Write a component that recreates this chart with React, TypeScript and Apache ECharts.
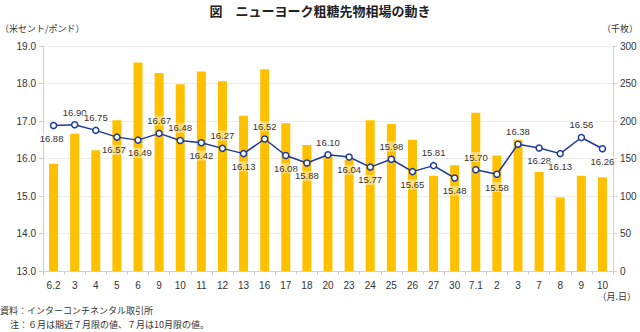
import React, { useEffect, useRef } from "react";
import * as echarts from "echarts";

const categories = ["6.2", "3", "4", "5", "6", "9", "10", "11", "12", "13", "16", "17", "18", "20", "23", "24", "25", "26", "27", "30", "7.1", "2", "3", "7", "8", "9", "10"];
const prices = [16.88, 16.9, 16.75, 16.57, 16.49, 16.67, 16.48, 16.42, 16.27, 16.13, 16.52, 16.08, 15.88, 16.1, 16.04, 15.77, 15.98, 15.65, 15.81, 15.48, 15.7, 15.58, 16.38, 16.28, 16.13, 16.56, 16.26];
const volumes = [143, 183, 161, 201, 278, 264, 249, 266, 253, 207, 269, 197, 168, 155, 148, 201, 196, 175, 127, 141, 211, 154, 175, 132, 98, 127, 125];
const labelPos = ["bottom", "top", "top", "bottom", "bottom", "top", "top", "bottom", "top", "bottom", "top", "bottom", "bottom", "top", "bottom", "bottom", "top", "bottom", "top", "bottom", "top", "bottom", "top", "bottom", "bottom", "top", "bottom"];
const labelShift = [-2, 0, 0, -3, 2, 0, 0, 0, 0, 0, 0, 0, 0, 0, 0, 0, 0, 0, 0, 0, 0, 0, 0, 0, 0, 0, 0];
const julyStart = 20;
const leftTicks = [13, 19, 1];
const rightTicks = [0, 300, 50];

const FONT = "'Noto Sans CJK JP', 'Liberation Sans', sans-serif";
const NUMFONT = "'Liberation Sans', Arial, sans-serif";
const LINE = "#1C3A9C";

function lineData(from: number, to: number) {
  return prices.map((v, i) =>
    i >= from && i < to
      ? {
          value: v,
          label: {
            show: true,
            position: labelPos[i],
            distance: 4,
            offset: [labelShift[i], 0],
            formatter: (p: any) => Number(p.value).toFixed(2),
            fontSize: 9.5,
            fontFamily: NUMFONT,
            color: "#333",
            backgroundColor: "rgba(255,255,255,0.45)",
            padding: [0, 1],
          },
        }
      : null
  );
}

export default function App() {
  const ref = useRef<HTMLDivElement>(null);
  useEffect(() => {
    const chart = echarts.init(ref.current!, null, { renderer: "svg" });
    const lineSeries = (from: number, to: number) => ({
      type: "line",
      yAxisIndex: 0,
      data: lineData(from, to),
      connectNulls: false,
      symbol: "circle",
      symbolSize: 6,
      itemStyle: { color: "#fff", borderColor: LINE, borderWidth: 1.5 },
      lineStyle: { color: LINE, width: 1.5 },
      z: 5,
    });
    chart.setOption({
      animation: false,
      textStyle: { fontFamily: FONT },
      grid: { left: 43, right: 27, top: 46, bottom: 61 },
      xAxis: {
        type: "category",
        data: categories,
        axisLine: { lineStyle: { color: "#d0d0d0" } },
        axisTick: { show: true, alignWithLabel: false, length: 4, lineStyle: { color: "#d0d0d0" } },
        axisLabel: { fontSize: 10, color: "#333", fontFamily: NUMFONT, margin: 9, interval: 0 },
      },
      yAxis: [
        {
          type: "value",
          min: leftTicks[0],
          max: leftTicks[1],
          interval: leftTicks[2],
          axisLine: { show: true, lineStyle: { color: "#d0d0d0" } },
          axisTick: { show: true, length: 4, lineStyle: { color: "#d0d0d0" } },
          axisLabel: { fontSize: 10, color: "#333", fontFamily: NUMFONT, formatter: (v: number) => v.toFixed(1), margin: 7 },
          splitLine: { lineStyle: { color: "#ececec" } },
        },
        {
          type: "value",
          min: rightTicks[0],
          max: rightTicks[1],
          interval: rightTicks[2],
          position: "right",
          axisLine: { show: true, lineStyle: { color: "#d0d0d0" } },
          axisTick: { show: true, length: 4, lineStyle: { color: "#d0d0d0" } },
          axisLabel: { fontSize: 10, color: "#333", fontFamily: NUMFONT, margin: 7 },
          splitLine: { show: false },
        },
      ],
      series: [
        {
          type: "bar",
          yAxisIndex: 1,
          data: volumes,
          barWidth: 9,
          itemStyle: { color: "#FFC000" },
          z: 2,
        },
        lineSeries(0, julyStart),
        lineSeries(julyStart, prices.length),
      ],
      graphic: [
        { type: "text", left: "center", top: 4, style: { text: "図　ニューヨーク粗糖先物相場の動き", fill: "#222", font: `bold 13px ${FONT}` } },
        { type: "text", left: 0, top: 24, style: { text: "（米セント/ポンド）", fill: "#333", font: `9px ${FONT}` } },
        { type: "text", right: 2, top: 24, style: { text: "（千枚）", fill: "#333", font: `9px ${FONT}` } },
        { type: "text", right: 4, top: 292, style: { text: "（月.日）", fill: "#333", font: `9px ${FONT}` } },
        { type: "text", left: 0, top: 306, style: { text: "資料：インターコンチネンタル取引所", fill: "#333", font: `9px ${FONT}` } },
        { type: "text", left: 10, top: 320, style: { text: "注：６月は期近７月限の値、７月は10月限の値。", fill: "#333", font: `9px ${FONT}` } },
      ],
    });
    return () => chart.dispose();
  }, []);
  return <div ref={ref} style={{ position: "fixed", left: 0, top: 0, width: 640, height: 332, background: "#fff" }} />;
}
